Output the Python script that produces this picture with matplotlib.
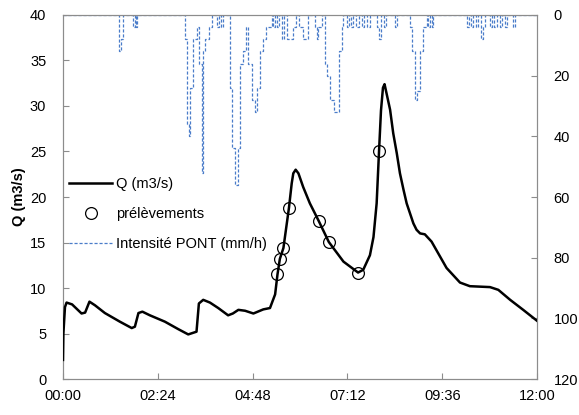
import numpy as np
import matplotlib.pyplot as plt
from matplotlib.ticker import FuncFormatter

plt.rcParams['font.family'] = ['Liberation Sans', 'DejaVu Sans']
plt.rcParams['font.size'] = 10.5

# debit Q (heure, m3/s)
q_t = [0.0, 0.01, 0.05, 0.09, 0.23, 0.47, 0.56, 0.67, 0.81, 1.06, 1.44, 1.74, 1.82,
       1.91, 2.01, 2.2, 2.58, 2.91, 3.17, 3.38, 3.44, 3.55, 3.72, 3.93, 4.18, 4.30,
       4.44, 4.61, 4.82, 5.07, 5.24, 5.37, 5.43, 5.49, 5.58, 5.72, 5.79, 5.83, 5.89,
       5.96, 6.08, 6.25, 6.47, 6.73, 7.10, 7.47, 7.60, 7.77, 7.86, 7.94, 8.0, 8.05,
       8.10, 8.14, 8.19, 8.28, 8.36, 8.45, 8.53, 8.62, 8.70, 8.87, 8.95, 9.04, 9.16,
       9.33, 9.71, 10.05, 10.30, 10.81, 11.02, 11.32, 11.65, 12.0]
q_v = [2.1, 5.0, 7.9, 8.4, 8.2, 7.2, 7.3, 8.5, 8.1, 7.25, 6.3, 5.6, 5.75,
       7.25, 7.4, 7.0, 6.3, 5.5, 4.9, 5.2, 8.3, 8.7, 8.4, 7.8, 7.0, 7.2,
       7.6, 7.5, 7.2, 7.65, 7.8, 9.3, 11.5, 13.2, 14.4, 18.8, 21.5, 22.6, 23.0,
       22.6, 21.1, 19.3, 17.4, 15.05, 12.9, 11.7, 12.0, 13.6, 15.6, 19.3, 25.0, 29.5,
       32.0, 32.4, 31.4, 29.6, 27.0, 24.8, 22.6, 20.8, 19.3, 17.1, 16.4, 16.0, 15.9,
       15.1, 12.2, 10.6, 10.2, 10.1, 9.8, 8.7, 7.6, 6.4]

# prelevements
p_t = [5.43, 5.49, 5.58, 5.72, 6.47, 6.73, 7.47, 8.0]
p_v = [11.5, 13.2, 14.4, 18.8, 17.4, 15.05, 11.7, 25.0]

# intensite pluie PONT (minutes, mm/h), en escalier
rain_min = [0, 85, 88, 91, 106, 109, 111, 112, 185, 188, 191, 193, 198, 203, 207,
            211, 213, 216, 222, 226, 234, 237, 240, 243, 254, 256, 261, 266, 269,
            273, 278, 281, 287, 292, 295, 299, 304, 309, 317, 319, 322, 325, 328,
            333, 336, 340, 349, 354, 358, 365, 372, 383, 386, 387, 393, 398, 401,
            406, 412, 419, 424, 425, 431, 434, 437, 440, 445, 450, 454, 457, 462,
            466, 477, 480, 483, 488, 491, 504, 507, 527, 530, 535, 538, 542, 547,
            553, 554, 557, 560, 562, 614, 617, 620, 623, 627, 630, 635, 638, 641,
            649, 652, 655, 659, 664, 667, 671, 674, 684, 687, 720]
rain_mmh = [0, 12, 8, 0, 4, 0, 4, 0, 8, 36, 40, 24, 8, 4, 16,
            52, 12, 8, 4, 0, 4, 0, 4, 0, 24, 44, 56, 44, 16,
            12, 4, 16, 28, 32, 24, 12, 8, 4, 0, 4, 0, 4, 0,
            8, 0, 8, 4, 0, 4, 8, 0, 4, 8, 4, 0, 16, 20,
            28, 32, 12, 4, 0, 4, 0, 4, 0, 4, 0, 4, 0, 4,
            0, 4, 8, 0, 4, 0, 4, 0, 4, 12, 28, 25, 12, 4,
            0, 4, 0, 4, 0, 4, 0, 4, 0, 4, 0, 8, 4, 0,
            4, 0, 4, 0, 4, 0, 4, 0, 4, 0, 0]

fig = plt.figure(figsize=(5.79, 4.15), dpi=100)
ax = fig.add_axes([0.1088, 0.0867, 0.8187, 0.8772])
ax2 = ax.twinx()

grey = '#8c8c8c'
rain_h = np.array(rain_min) / 60.0
l3, = ax2.plot(rain_h, rain_mmh, drawstyle='steps-post', color='#4a7cc9',
               lw=0.9, ls=(0, (2.5, 1.5)), label='Intensité PONT (mm/h)')
ax2.set_ylim(120, 0)
ax2.set_yticks(np.arange(0, 121, 20))

l1, = ax.plot(q_t, q_v, color='black', lw=1.8, label='Q (m3/s)', zorder=3,
              solid_joinstyle='round')
l2, = ax.plot(p_t, p_v, ls='none', marker='o', ms=8.5, mfc='none', mec='black',
              mew=0.9, label='prélèvements', zorder=4)
ax.set_zorder(ax2.get_zorder() + 1)
ax.patch.set_visible(False)

ax.set_xlim(0, 12)
ax.set_ylim(0, 40)
ax.set_yticks(np.arange(0, 41, 5))
ax.set_xticks([0, 2.4, 4.8, 7.2, 9.6, 12])


def hhmm(x, pos):
    m = int(round(x * 60))
    return '%02d:%02d' % (m // 60, m % 60)


ax.xaxis.set_major_formatter(FuncFormatter(hhmm))
ax.set_ylabel('Q (m3/s)', fontweight='bold', labelpad=3)

for a in (ax, ax2):
    for s in a.spines.values():
        s.set_color(grey)
    a.tick_params(direction='in', length=4, color=grey, width=0.8)
ax.tick_params(axis='x', pad=7)
ax.tick_params(axis='y', pad=12)
ax2.tick_params(axis='y', pad=12)

ax.legend(handles=[l1, l2, l3], loc='upper left', bbox_to_anchor=(-0.005, 0.58),
          frameon=False, handlelength=2.9, labelspacing=1.1, borderaxespad=0.2,
          handletextpad=0.3)

fig.savefig('out.png', dpi=100)
